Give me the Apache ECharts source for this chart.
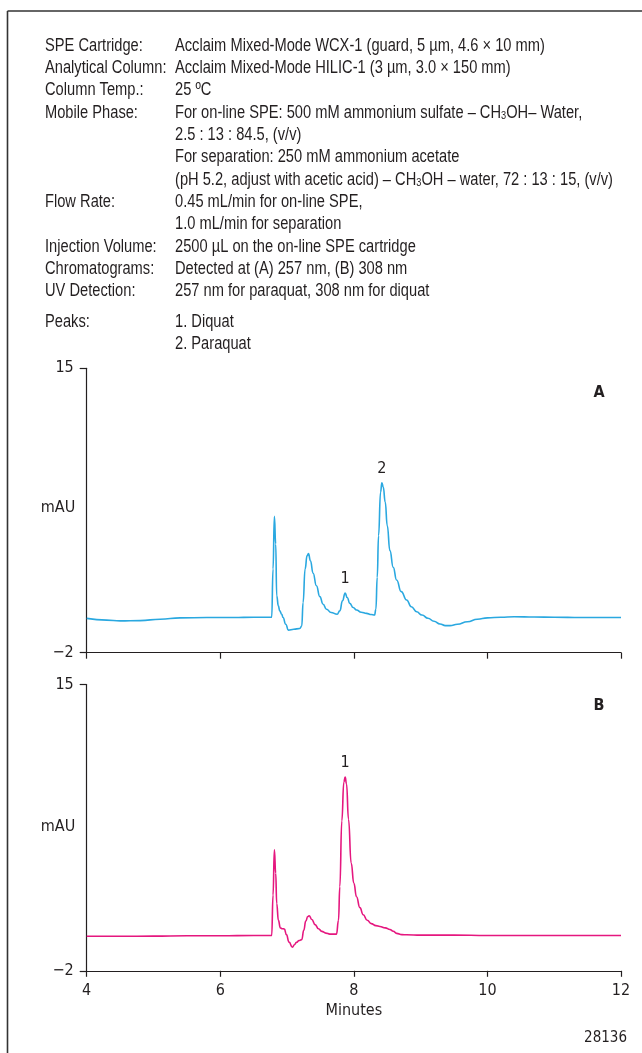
<!DOCTYPE html>
<html><head><meta charset="utf-8">
<script src="https://cdn.jsdelivr.net/npm/echarts@6/dist/echarts.min.js"></script>
<style>html,body{margin:0;padding:0;background:#fff}#c{width:642px;height:1053px}</style>
</head><body><div id="c"></div>
<script>
// ---------- data ----------
const infoLabels = ['SPE Cartridge:', 'Analytical Column:', 'Column Temp.:', 'Mobile Phase:', '', '', '', 'Flow Rate:', '', 'Injection Volume:', 'Chromatograms:', 'UV Detection:'];
const infoValues = [
  'Acclaim Mixed-Mode WCX-1 (guard, 5 µm, 4.6 × 10 mm)',
  'Acclaim Mixed-Mode HILIC-1 (3 µm, 3.0 × 150 mm)',
  '25 ºC',
  'For on-line SPE: 500 mM ammonium sulfate – CH{s|3}OH– Water,',
  '2.5 : 13 : 84.5, (v/v)',
  'For separation: 250 mM ammonium acetate',
  '(pH 5.2, adjust with acetic acid) – CH{s|3}OH – water, 72 : 13 : 15, (v/v)',
  '0.45 mL/min for on-line SPE,',
  '1.0 mL/min for separation',
  '2500 µL on the on-line SPE cartridge',
  'Detected at (A) 257 nm, (B) 308 nm',
  '257 nm for paraquat, 308 nm for diquat'
];
const peaksTitle = 'Peaks:';
const peakNames = ['1. Diquat', '2. Paraquat'];

const xTicks = [4, 6, 8, 10, 12];
const yTicks = [-2, 15];
const xTitle = 'Minutes';
const yTitle = 'mAU';
const figureId = '28136';

const timesA = [4.0, 4.3, 4.5, 4.8, 5.1, 5.4, 5.8, 6.2, 6.5, 6.77, 6.79, 6.81, 6.83, 6.845, 6.87, 6.89, 6.92, 6.94, 6.98, 7.02, 7.1, 7.19, 7.22, 7.24, 7.27, 7.30, 7.32, 7.35, 7.39, 7.44, 7.49, 7.54, 7.59, 7.66, 7.75, 7.79, 7.83, 7.87, 7.90, 7.94, 7.99, 8.04, 8.11, 8.19, 8.26, 8.31, 8.33, 8.35, 8.37, 8.40, 8.42, 8.44, 8.47, 8.50, 8.54, 8.59, 8.64, 8.71, 8.79, 8.86, 8.94, 9.02, 9.11, 9.2, 9.29, 9.37, 9.44, 9.55, 9.7, 9.85, 10.0, 10.2, 10.4, 10.7, 11.0, 11.4, 11.7, 12.0];
const valuesA = [0.05, -0.05, -0.1, -0.08, 0.0, 0.08, 0.1, 0.1, 0.12, 0.12, 3.0, 6.15, 4.5, 1.4, 0.8, 0.5, 0.3, 0.1, -0.3, -0.65, -0.6, -0.55, -0.4, 1.0, 3.0, 3.8, 3.92, 3.5, 2.75, 2.0, 1.35, 0.9, 0.6, 0.4, 0.3, 0.5, 1.1, 1.57, 1.3, 0.95, 0.7, 0.55, 0.42, 0.35, 0.28, 0.25, 0.6, 2.5, 5.0, 7.6, 8.15, 7.9, 7.0, 5.6, 4.1, 3.1, 2.35, 1.65, 1.15, 0.75, 0.45, 0.25, 0.06, -0.12, -0.28, -0.38, -0.38, -0.3, -0.15, 0.0, 0.08, 0.12, 0.15, 0.13, 0.12, 0.1, 0.1, 0.1];
const peakLabelsA = ['1', '2'];
const peakTimesA = [7.87, 8.42];

const timesB = [4.0, 4.5, 5.0, 5.5, 6.0, 6.5, 6.77, 6.79, 6.81, 6.83, 6.845, 6.87, 6.90, 6.93, 6.96, 6.99, 7.03, 7.08, 7.11, 7.14, 7.18, 7.22, 7.25, 7.28, 7.31, 7.33, 7.37, 7.42, 7.47, 7.52, 7.58, 7.64, 7.74, 7.77, 7.79, 7.82, 7.85, 7.87, 7.89, 7.92, 7.96, 8.00, 8.04, 8.09, 8.14, 8.2, 8.26, 8.33, 8.39, 8.47, 8.54, 8.59, 8.64, 8.72, 8.79, 9.0, 9.5, 10.0, 10.5, 11.0, 11.5, 12.0];
const valuesB = [0.05, 0.05, 0.06, 0.08, 0.08, 0.1, 0.1, 2.5, 5.18, 3.8, 2.0, 1.0, 0.55, 0.5, 0.48, 0.15, -0.3, -0.6, -0.45, -0.31, -0.2, -0.15, 0.4, 0.95, 1.22, 1.27, 1.05, 0.74, 0.5, 0.34, 0.24, 0.18, 0.18, 1.0, 3.0, 6.9, 9.2, 9.5, 9.1, 7.0, 4.4, 3.2, 2.4, 1.75, 1.33, 1.0, 0.8, 0.68, 0.63, 0.55, 0.45, 0.35, 0.22, 0.15, 0.14, 0.12, 0.12, 0.1, 0.1, 0.1, 0.1, 0.1];
const peakLabelsB = ['1'];
const peakTimesB = [7.87];

// ---------- build ----------
const FONT = '"DejaVu Sans Condensed","Liberation Sans",sans-serif';
const HFONT = '"Liberation Sans",Arial,sans-serif';
const INK = '#231f20';
const pairs = (t, v) => t.map((x, i) => [x, v[i]]);
const valueAt = (t, v, x) => v[t.indexOf(x)];
const fmtY = v => (v < 0 ? '\u2212' + Math.abs(v) : String(v));

// horizontal condensing factor for header text (reference uses a condensed face)
const HSIZE = 17.5;
const mctx = document.createElement('canvas').getContext('2d');
mctx.font = HSIZE + 'px ' + HFONT;
const refW = mctx.measureText('(pH 5.2, adjust with acetic acid) \u2013 CH3OH \u2013 water, 72 : 13 : 15, (v/v)').width;
const SX = Math.min(1, 441 / refW);

const gridA = { left: 86.7, top: 368.3, width: 534.3, height: 284.4 };
const gridB = { left: 86.7, top: 684.5, width: 534.3, height: 286.3 };

function yAxisFor(idx) {
  return {
    type: 'value', gridIndex: idx, min: yTicks[0], max: yTicks[1],
    axisLine: { show: true, lineStyle: { color: INK, width: 1.2 } },
    axisTick: { show: true, length: 7, customValues: yTicks, lineStyle: { color: INK, width: 1.2 } },
    axisLabel: { show: true, customValues: yTicks, formatter: fmtY, margin: 13, color: INK, fontSize: 16, fontFamily: FONT },
    splitLine: { show: false }
  };
}
function xAxisFor(idx, labels) {
  return {
    type: 'value', gridIndex: idx, min: xTicks[0], max: xTicks[xTicks.length - 1], interval: 2,
    axisLine: { show: true, onZero: false, lineStyle: { color: INK, width: 1.2 } },
    axisTick: { show: true, length: 6, lineStyle: { color: INK, width: 1.2 } },
    axisLabel: { show: labels, margin: 12, color: INK, fontSize: 16, fontFamily: FONT },
    splitLine: { show: false },
    name: labels ? xTitle : '', nameLocation: 'middle', nameGap: 32,
    nameTextStyle: { color: INK, fontSize: 16, fontFamily: FONT }
  };
}
function peakMarks(labels, times, t, v) {
  return {
    symbol: 'circle', symbolSize: 1, itemStyle: { color: 'rgba(0,0,0,0)' }, silent: true,
    label: { show: true, position: 'top', distance: 6, formatter: '{b}', color: INK, fontSize: 16, fontFamily: FONT },
    data: labels.map((l, i) => ({ name: l, coord: [times[i], valueAt(t, v, times[i])] }))
  };
}

const graphics = [];
graphics.push({ type: 'line', shape: { x1: 7.5, y1: 11, x2: 642, y2: 11 }, style: { stroke: '#333', lineWidth: 1.6 } });
graphics.push({ type: 'line', shape: { x1: 7.5, y1: 11, x2: 7.5, y2: 1053 }, style: { stroke: '#333', lineWidth: 1.6 } });
const LINE0 = 46, LSTEP = 22.3;
const rich = { s: { fontSize: 11, fontFamily: HFONT, fill: INK, verticalAlign: 'bottom', lineHeight: 11 } };
function htxt(x, y, text) {
  return { type: 'text', x: x, y: y, scaleX: SX, style: { text: text, font: HSIZE + 'px ' + HFONT, fill: INK, textVerticalAlign: 'middle', rich: rich } };
}
function txt(x, y, text, extra) {
  return { type: 'text', x: x, y: y, style: Object.assign({ text: text, font: '16px ' + FONT, fill: INK, textVerticalAlign: 'middle' }, extra || {}) };
}
infoLabels.forEach((l, i) => { if (l) graphics.push(htxt(45, LINE0 + i * LSTEP, l)); });
infoValues.forEach((v, i) => graphics.push(htxt(175, LINE0 + i * LSTEP, v)));
const peaksY = LINE0 + 11 * LSTEP + 31;
graphics.push(htxt(45, peaksY, peaksTitle));
peakNames.forEach((p, i) => graphics.push(htxt(175, peaksY + i * LSTEP, p)));
graphics.push(txt(58, 508, yTitle, { textAlign: 'center' }));
graphics.push(txt(58, 827, yTitle, { textAlign: 'center' }));
graphics.push(txt(599, 393, 'A', { textAlign: 'center', font: 'bold 16px ' + FONT }));
graphics.push(txt(599, 706, 'B', { textAlign: 'center', font: 'bold 16px ' + FONT }));
graphics.push(txt(627, 1038, figureId, { textAlign: 'right', font: '15px ' + FONT }));

const chart = echarts.init(document.getElementById('c'), null, { renderer: 'canvas' });
chart.setOption({
  animation: false,
  backgroundColor: '#fff',
  grid: [gridA, gridB],
  xAxis: [xAxisFor(0, false), xAxisFor(1, true)],
  yAxis: [yAxisFor(0), yAxisFor(1)],
  series: [
    { type: 'line', xAxisIndex: 0, yAxisIndex: 0, data: pairs(timesA, valuesA), showSymbol: false, smooth: 0.5, smoothMonotone: 'x',
      lineStyle: { color: '#2aa8e0', width: 1.6 }, itemStyle: { color: '#2aa8e0' }, markPoint: peakMarks(peakLabelsA, peakTimesA, timesA, valuesA) },
    { type: 'line', xAxisIndex: 1, yAxisIndex: 1, data: pairs(timesB, valuesB), showSymbol: false, smooth: 0.5, smoothMonotone: 'x',
      lineStyle: { color: '#e5177f', width: 1.6 }, itemStyle: { color: '#e5177f' }, markPoint: peakMarks(peakLabelsB, peakTimesB, timesB, valuesB) }
  ],
  graphic: graphics
});
</script></body></html>
